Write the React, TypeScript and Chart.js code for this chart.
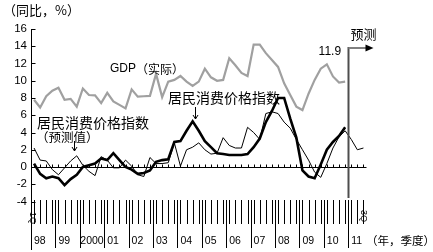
import React, { useEffect, useRef } from "react";
import { Chart, registerables } from "chart.js";

Chart.register(...registerables);

// ---- data ----
const years = ["98", "99", "2000", "01", "02", "03", "04", "05", "06", "07", "08", "09", "10", "11"];
const quarterCount = 55; // 1998Q1 .. 2011Q3
const categories = Array.from({ length: quarterCount }, (_, k) => `${years[Math.floor(k / 4)]}Q${(k % 4) + 1}`);

// real GDP, yoy %
const gdp = [
  7.8, 6.9, 8.2, 8.85, 9.2, 7.8, 7.9, 7.0, 9.1, 8.35, 8.3, 7.4, 8.6, 7.6, 7.2, 6.8,
  9.0, 8.15, 8.2, 8.25, 10.8, 8.1, 9.9, 10.1, 10.55, 9.9, 9.4, 9.9, 11.4, 10.4, 10.0, 10.1,
  12.6, 11.8, 10.9, 10.55, 14.2, 14.2, 13.2, 12.4, 11.6, 9.7, 8.35, 7.0, 6.6, 8.5,
  10.1, 11.4, 11.9, 10.5, 9.8, 9.9,
];
// CPI actual, yoy %
const cpiActual = [
  0.4, -0.8, -1.3, -1.1, -1.3, -2.1, -1.4, -0.9, 0.0, 0.2, 0.4, 1.0, 0.8, 1.6, 0.8, 0.0,
  -0.3, -0.8, -0.7, -0.4, 0.6, 0.8, 0.9, 2.9, 3.0, 4.2, 5.3, 4.2, 3.0, 2.3, 1.6, 1.5,
  1.4, 1.4, 1.4, 1.5, 2.3, 3.3, 5.2, 6.5, 8.0, 8.0, 5.6, 3.4, -0.4, -1.1, -1.3, 0.3,
  2.0, 2.9, 3.6, 4.6,
];
// CPI forecast value, yoy %
const cpiForecast = [
  2.2, 0.8, 0.7, -0.3, -0.9, -0.1, 0.7, 1.3, 0.2, -0.5, -1.0, 1.2, 0.8, -0.1, -0.1, 0.8,
  0.1, -0.9, -1.1, 1.1, 0.4, 0.4, 0.5, 2.8, 0.1, 2.0, 2.3, 2.8, 2.0, 1.5, 1.6, 3.4,
  2.5, 2.2, 2.2, 4.6, 4.0, 3.2, 6.2, 6.4, 6.2, 5.2, 4.5, 3.2, 2.0, 0.8, -0.6, -1.2,
  0.4, 2.2, 3.5, 4.2, 3.2, 2.0, 2.2,
];
const yMin = -4;
const yMax = 16;
const yStep = 2;
const gdpPeakIndex = 48; // 2010Q1, labelled
const cpiPeakIndex = 26; // 2004Q3, arrow
const forecastPeakIndex = 7; // 1999Q4, arrow
const forecastStartYear = 13; // index into years (2011)

const FONT_SANS = '"Liberation Sans", Arial, sans-serif';
const FONT_CJK = '"Noto Sans CJK SC", "Noto Sans", sans-serif';

const decor = {
  id: "decor",
  beforeDatasetsDraw(chart: any) {
    const { ctx, chartArea: a, scales } = chart;
    const xs = scales.x;
    const ys = scales.y;
    const qw = (a.right - a.left) / categories.length;
    const seg = (x1: number, y1: number, x2: number, y2: number) => {
      ctx.beginPath();
      ctx.moveTo(x1, y1);
      ctx.lineTo(x2, y2);
      ctx.stroke();
    };
    ctx.save();
    ctx.strokeStyle = "#000";
    ctx.lineWidth = 1;
    const ax = Math.round(a.left) + 0.5;
    // y axis (extends into the period band)
    seg(ax, ys.getPixelForValue(yMax), ax, 250);
    for (const t of ys.ticks) {
      const py = Math.round(ys.getPixelForValue(t.value)) + 0.5;
      seg(ax, py, ax + 4, py);
    }
    // zero line with quarter ticks
    const y0 = Math.round(ys.getPixelForValue(0)) + 0.5;
    seg(a.left, y0, a.right, y0);
    for (let k = 0; k < categories.length; k++) {
      const cx = Math.round(xs.getPixelForValue(k)) + 0.5;
      seg(cx, y0, cx, y0 - 3);
      seg(cx, 200, cx, 224);
    }
    for (let i = 1; i < years.length; i++) {
      const bx = Math.round(a.left + 4 * i * qw) + 0.5;
      seg(bx, 200, bx, 248);
    }
    ctx.fillStyle = "#000";
    ctx.font = `10.5px ${FONT_SANS}`;
    ctx.textBaseline = "middle";
    ctx.textAlign = "left";
    years.forEach((yr, i) => ctx.fillText(yr, a.left + 4 * i * qw + (yr.length > 2 ? 0.5 : 3), 241));
    // quarter markers at both ends
    ctx.font = `9px ${FONT_SANS}`;
    ctx.textAlign = "center";
    const rot = (txt: string, x: number, y: number) => {
      ctx.save();
      ctx.translate(x, y);
      ctx.rotate(Math.PI / 2);
      ctx.fillText(txt, 0, 0);
      ctx.restore();
    };
    rot("1Q", a.left + 1, 218);
    rot("3Q", xs.getPixelForValue(categories.length - 1), 216);
    ctx.restore();
  },
  afterDatasetsDraw(chart: any) {
    const { ctx, chartArea: a, scales } = chart;
    const xs = scales.x;
    const ys = scales.y;
    const qw = (a.right - a.left) / categories.length;
    const seg = (x1: number, y1: number, x2: number, y2: number) => {
      ctx.beginPath();
      ctx.moveTo(x1, y1);
      ctx.lineTo(x2, y2);
      ctx.stroke();
    };
    const downArrow = (x: number, y1: number, y2: number) => {
      ctx.lineWidth = 1;
      ctx.strokeStyle = "#000";
      seg(x, y1, x, y2);
      ctx.beginPath();
      ctx.moveTo(x - 2.5, y2 - 4);
      ctx.lineTo(x, y2);
      ctx.lineTo(x + 2.5, y2 - 4);
      ctx.stroke();
    };
    ctx.save();
    // forecast marker
    const fx = Math.round(a.left + 4 * forecastStartYear * qw) + 0.5;
    ctx.lineWidth = 2;
    ctx.strokeStyle = "#4d4d4d";
    seg(fx, 47, fx, 198);
    ctx.strokeStyle = "#808080";
    seg(fx, 48, fx + 18, 48);
    ctx.fillStyle = "#000";
    ctx.beginPath();
    ctx.moveTo(fx + 17, 44.5);
    ctx.lineTo(fx + 25, 48);
    ctx.lineTo(fx + 17, 51.5);
    ctx.closePath();
    ctx.fill();

    ctx.fillStyle = "#000";
    ctx.textBaseline = "middle";
    ctx.textAlign = "left";
    ctx.font = `13px ${FONT_CJK}`;
    ctx.fillText("预测", fx + 2, 34);
    ctx.fillText("（同比，%）", 3, 10);

    ctx.font = `12px ${FONT_SANS}`;
    ctx.fillText("GDP", 110, 69);
    const gw = ctx.measureText("GDP").width;
    ctx.font = `12px ${FONT_CJK}`;
    ctx.fillText("（实际）", 110 + gw, 69);

    ctx.font = `12px ${FONT_SANS}`;
    ctx.textAlign = "center";
    ctx.fillText(gdp[gdpPeakIndex].toFixed(1), xs.getPixelForValue(gdpPeakIndex) + 3, ys.getPixelForValue(gdp[gdpPeakIndex]) - 13);

    ctx.textAlign = "left";
    ctx.font = `14px ${FONT_CJK}`;
    ctx.fillText("居民消费价格指数", 168, 98);
    ctx.fillText("居民消费价格指数", 37, 122.5);
    ctx.font = `12.5px ${FONT_CJK}`;
    ctx.fillText("（预测值）", 36, 137.5);
    ctx.font = `11.5px ${FONT_CJK}`;
    ctx.fillText("（年，季度）", 366, 241);

    downArrow(Math.round(xs.getPixelForValue(cpiPeakIndex)) + 2.5, 107, 119);
    downArrow(Math.round(xs.getPixelForValue(forecastPeakIndex)) - 2.5, 141, 151);
    ctx.restore();
  },
};

export default function App() {
  const canvasRef = useRef<HTMLCanvasElement | null>(null);
  useEffect(() => {
    if (!canvasRef.current) return;
    const chart = new Chart(canvasRef.current, {
      type: "line",
      data: {
        labels: categories,
        datasets: [
          { label: "居民消费价格指数", data: cpiActual, borderColor: "#000", borderWidth: 2.6, pointRadius: 0, tension: 0, fill: false },
          { label: "居民消费价格指数（预测值）", data: cpiForecast, borderColor: "#000", borderWidth: 1, pointRadius: 0, tension: 0, fill: false },
          { label: "GDP（实际）", data: gdp, borderColor: "#a0a0a0", borderWidth: 2.2, pointRadius: 0, tension: 0, fill: false },
        ],
      },
      options: {
        animation: false,
        responsive: false,
        layout: { padding: { top: 29, bottom: 50.5, left: 0, right: 66.5 } },
        plugins: { legend: { display: false }, tooltip: { enabled: false } },
        scales: {
          x: { type: "category", display: false, offset: true },
          y: {
            min: yMin,
            max: yMax,
            ticks: { stepSize: yStep, autoSkip: false, color: "#000", font: { family: FONT_SANS, size: 11.5 }, padding: 4 },
            grid: { display: false, drawTicks: false },
            border: { display: false },
            afterFit: (s: any) => {
              s.width = 31;
            },
          },
        },
      },
      plugins: [decor],
    });
    return () => chart.destroy();
  }, []);
  return (
    <div style={{ position: "fixed", left: 0, top: 0, width: 433, height: 252, background: "#fff" }}>
      <canvas ref={canvasRef} width={433} height={252} style={{ display: "block" }} />
    </div>
  );
}
